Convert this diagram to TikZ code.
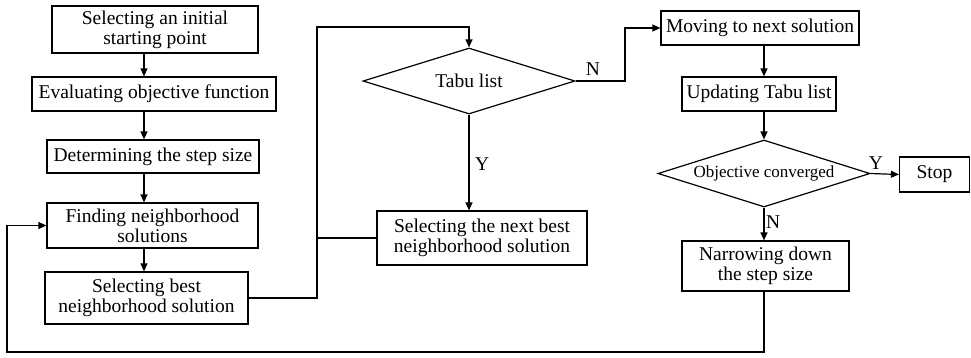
\documentclass[tikz,border=0pt]{standalone}
\usepackage{fontspec}
\setmainfont{Liberation Serif}
\usetikzlibrary{shapes.geometric,arrows.meta}
\begin{document}
\begin{tikzpicture}[x=1pt,y=-1pt,
  box/.style={draw,line width=1.2pt,inner sep=0pt,align=center,font=\fontsize{19.5}{20}\selectfont},
  dia/.style={draw,diamond,aspect=3.2,line width=1.2pt,inner sep=0pt,align=center,font=\fontsize{19.5}{20}\selectfont},
  arr/.style={line width=1.2pt,-{Triangle[length=8pt,width=7pt]}},
  ln/.style={line width=1.2pt},
  lbl/.style={font=\fontsize{19.5}{20}\selectfont,inner sep=0pt}]
\useasboundingbox (0,0) rectangle (971,357);
\node[box,minimum width=206,minimum height=47] (b1) at (155,29.5) {Selecting an initial\\starting point};
\node[box,minimum width=244,minimum height=34] (b2) at (154,94) {Evaluating objective function};
\node[box,minimum width=212,minimum height=33] (b3) at (153,156.5) {Determining the step size};
\node[box,minimum width=211,minimum height=45] (b4) at (152.5,225.5) {Finding neighborhood\\solutions};
\node[box,minimum width=203,minimum height=52] (b5) at (146.5,298) {Selecting best\\neighborhood solution};
\node[dia,minimum width=212,minimum height=66] (d1) at (469,81) {Tabu list};
\node[box,minimum width=210,minimum height=54] (b6) at (482,238) {Selecting the next best\\neighborhood solution};
\node[box,minimum width=198,minimum height=34] (b7) at (760,28) {Moving to next solution};
\node[box,minimum width=154,minimum height=34] (b8) at (759,94) {Updating Tabu list};
\node[dia,aspect=3.16,minimum width=212,minimum height=67,font=\fontsize{17}{18}\selectfont] (d2) at (764,173.5) {Objective converged};
\node[box,minimum width=70,minimum height=35] (stop) at (934.5,174.5) {Stop};
\node[box,minimum width=167,minimum height=50] (b9) at (765.5,266) {Narrowing down\\the step size};
\coordinate (colx) at (144,0);
\coordinate (colr) at (764,0);
\coordinate (j1) at (317,27);
\coordinate (jn) at (625,28);
\coordinate (lp) at (7,352);
% left column
\draw[arr] (b1.south -| colx) -- (b2.north -| colx);
\draw[arr] (b2.south -| colx) -- (b3.north -| colx);
\draw[arr] (b3.south -| colx) -- (b4.north -| colx);
\draw[arr] (b4.south -| colx) -- (b5.north -| colx);
% to tabu list
\draw[arr] (b5.east) -| (j1) -| (d1.north);
\draw[ln] (b6.west) -- (b6.west -| j1);
\draw[arr] (d1.south) -- (b6.north -| d1.south);
\node[lbl,anchor=west] (ly1) at (475,164) {Y};
% N branch
\draw[arr] (d1.east) -| (jn) -- (b7.west);
\node[lbl] (ln1) at (593,69) {N};
% right column
\draw[arr] (b7.south -| colr) -- (b8.north -| colr);
\draw[arr] (b8.south -| d2.north) -- (d2.north);
\draw[arr] (d2.east) -- (stop.west);
\node[lbl] (ly2) at (876,163) {Y};
\draw[arr] (d2.south) -- (b9.north -| d2.south);
\node[lbl,anchor=west] (ln2) at (766,222) {N};
% feedback loop
\draw[arr] (b9.south -| colr) -- (colr |- lp) -- (lp) |- (b4.west);
\end{tikzpicture}
\end{document}
